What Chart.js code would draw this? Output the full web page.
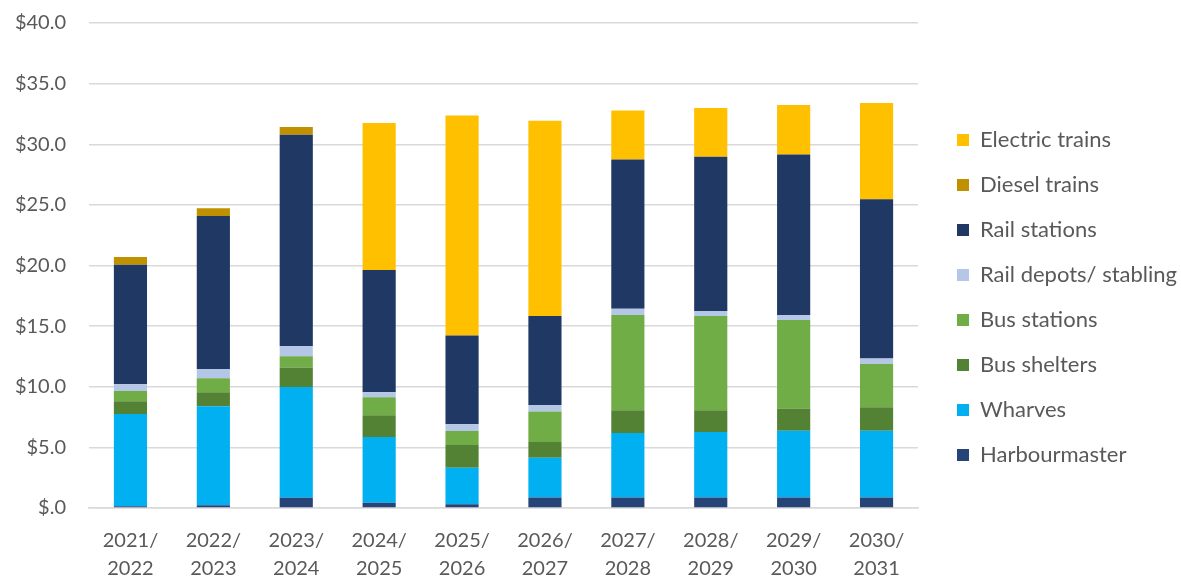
<!DOCTYPE html>
<html>
<head>
  <meta charset="utf-8" />
  <title>Stacked Costs Chart</title>
  <script src="https://cdn.jsdelivr.net/npm/chart.js"></script>
  <style>
    html, body { margin: 0; padding: 0; background: #fff; }
    #wrap { width: 1181px; height: 580px; }
  </style>
</head>
<body>
  <div id="wrap"><canvas id="costChart"></canvas></div>

  <script>
    // Financial years on the x axis
    const years = [
      ['2021/', '2022'], ['2022/', '2023'], ['2023/', '2024'], ['2024/', '2025'], ['2025/', '2026'],
      ['2026/', '2027'], ['2027/', '2028'], ['2028/', '2029'], ['2029/', '2030'], ['2030/', '2031']
    ];

    // Series values ($), stacked bottom to top
    const harbourmaster = [0.15, 0.23, 0.84, 0.43, 0.31, 0.87, 0.87, 0.87, 0.87, 0.87];
    const wharves       = [7.60, 8.16, 9.14, 5.42, 3.01, 3.28, 5.31, 5.39, 5.51, 5.51];
    const busShelters   = [1.05, 1.16, 1.61, 1.79, 1.87, 1.29, 1.88, 1.80, 1.82, 1.93];
    const busStations   = [0.85, 1.15, 0.93, 1.49, 1.16, 2.51, 7.85, 7.77, 7.30, 3.57];
    const railDepots    = [0.55, 0.77, 0.85, 0.42, 0.55, 0.55, 0.52, 0.41, 0.41, 0.45];
    const railStations  = [9.87, 12.62, 17.42, 10.08, 7.33, 7.33, 12.31, 12.73, 13.25, 13.14];
    const dieselTrains  = [0.63, 0.64, 0.63, 0, 0, 0, 0, 0, 0, 0];
    const electricTrains = [0, 0, 0, 12.12, 18.15, 16.11, 4.05, 4.02, 4.08, 7.93];

    // y axis tick labels, one per $5 step
    const yTickLabels = ['$.0', '$5.0', '$10.0', '$15.0', '$20.0', '$25.0', '$30.0', '$35.0', '$40.0'];

    const labelColor = '#595959';
    const fontFamily = 'Lato, "Open Sans", sans-serif';

    function series(label, data, color) {
      return {
        label: label,
        data: data,
        backgroundColor: color,
        borderColor: color,
        borderWidth: 0,
        categoryPercentage: 1.0,
        barPercentage: 0.4
      };
    }

    // legend sits a bit away from the plot: widen it and push its items right
    const LEGEND_WIDTH = 263;
    const LEGEND_GAP = 16;
    const legendGap = {
      id: 'legendGap',
      afterInit(chart) {
        const legend = chart.legend;
        const fit = legend.fit;
        legend.fit = function () {
          fit.call(this);
          this.width = LEGEND_WIDTH;
        };
      },
      afterLayout(chart) {
        const legend = chart.legend;
        legend.left += LEGEND_GAP;
        legend.top -= 4;
        legend.bottom -= 4;
      }
    };

    const ctx = document.getElementById('costChart').getContext('2d');
    const costChart = new Chart(ctx, {
      type: 'bar',
      data: {
        labels: years,
        datasets: [
          series('Harbourmaster', harbourmaster, '#264478'),
          series('Wharves', wharves, '#00b0f0'),
          series('Bus shelters', busShelters, '#548235'),
          series('Bus stations', busStations, '#70ad47'),
          series('Rail depots/ stabling', railDepots, '#b4c7e7'),
          series('Rail stations', railStations, '#203864'),
          series('Diesel trains', dieselTrains, '#bf9000'),
          series('Electric trains', electricTrains, '#ffc000')
        ]
      },
      plugins: [legendGap],
      options: {
        responsive: true,
        maintainAspectRatio: false,
        animation: false,
        events: [],
        layout: {
          padding: { left: 0, right: 0, top: 23, bottom: 0 }
        },
        plugins: {
          tooltip: { enabled: false },
          legend: {
            position: 'right',
            reverse: true,
            labels: {
              boxWidth: 12,
              boxHeight: 12,
              padding: 23,
              color: labelColor,
              font: { family: fontFamily, size: 22 }
            }
          }
        },
        scales: {
          x: {
            stacked: true,
            grid: { display: false, drawTicks: false },
            border: { color: '#d9d9d9', width: 1.5 },
            ticks: {
              color: labelColor,
              padding: 19,
              maxRotation: 0,
              font: { family: fontFamily, size: 20, lineHeight: 1.4 }
            },
            afterFit: (scale) => { scale.height = 72; }
          },
          y: {
            stacked: true,
            min: 0,
            max: 40,
            grid: { color: '#d9d9d9', lineWidth: 1.5, drawTicks: false },
            border: { display: false },
            ticks: {
              stepSize: 5,
              padding: 23,
              color: labelColor,
              font: { family: fontFamily, size: 20 },
              callback: (value) => yTickLabels[value / 5]
            },
            afterFit: (scale) => {
              scale.width = 89;
              scale.paddingTop = 0;
              scale.paddingBottom = 0;
            }
          }
        }
      }
    });
  </script>
</body>
</html>
